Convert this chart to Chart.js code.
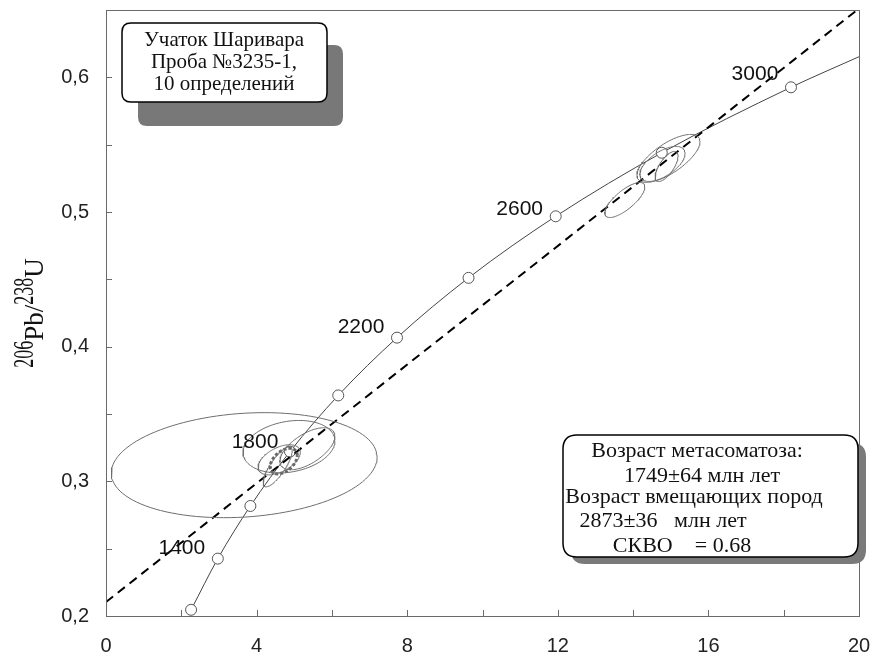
<!DOCTYPE html>
<html>
<head>
<meta charset="utf-8">
<script src="https://cdn.jsdelivr.net/npm/chart.js@4.4.1/dist/chart.umd.min.js"></script>
<style>
  html, body { margin: 0; padding: 0; background: #ffffff; }
  #wrap { width: 874px; height: 658px; }
</style>
</head>
<body>
<div id="wrap"><canvas id="c" width="874" height="658"></canvas></div>
<script>
// Concordia age markers (Ma) and their 207Pb/235U, 206Pb/238U coordinates
const markerAges = [1200, 1400, 1600, 1800, 2000, 2200, 2400, 2600, 2800, 3000];
const markerX = [2.260, 2.970, 3.835, 4.887, 6.169, 7.729, 9.629, 11.944, 14.762, 18.193];
const markerY = [0.2046, 0.2426, 0.2817, 0.3221, 0.3638, 0.4067, 0.4511, 0.4968, 0.5440, 0.5926];
// Concordia continues past the last marker to the right edge of the plot
const curveEndX = 20;
const curveEndY = 0.6153;

// Ages written next to their markers
const labeledAges = [1400, 1800, 2200, 2600, 3000];

// Discordia through the lower (1749 Ma) and upper (2873 Ma) intercepts
const discordiaX = [0, 20];
const discordiaY = [0.2104, 0.6511];

// Analytical error ellipses: centre, half-extent in x and y, error correlation
const ellCx  = [3.67, 4.86, 5.35, 4.56, 4.60, 14.94, 14.78, 14.89, 13.78];
const ellCy  = [0.3120, 0.3257, 0.3242, 0.3108, 0.3160, 0.5398, 0.5357, 0.5338, 0.5089];
const ellSx  = [3.53, 1.22, 0.73, 0.385, 0.56, 0.837, 0.60, 0.305, 0.531];
const ellSy  = [0.0390, 0.0195, 0.0156, 0.0149, 0.0112, 0.0178, 0.0130, 0.0112, 0.0130];
const ellRho = [0.15, 0.22, 0.60, 0.80, 0.50, 0.70, 0.60, 0.70, 0.75];

// Intercept error region near the lower intercept
const icptCx = [4.72];
const icptCy = [0.3150];
const icptSx = [0.36];
const icptSy = [0.0095];
const icptRho = [0.45];

// Axis tick labels
const xTickLabels = [0, 4, 8, 12, 16, 20];
const yTickLabels = [0.2, 0.3, 0.4, 0.5, 0.6];

const infoTopLines = ['Учаток Шаривара', 'Проба №3235-1,', '10 определений'];
const infoBottomLines = ['Возраст метасоматоза:', '1749±64 млн лет', 'Возраст вмещающих пород', '2873±36   млн лет', 'СКВО    = 0.68'];

function ellipsePoints(cx, cy, sx, sy, rho) {
  const pts = [];
  const k = Math.sqrt(1 - rho * rho);
  for (let i = 0; i <= 120; i++) {
    const t = (i / 120) * 2 * Math.PI;
    pts.push({ x: cx + sx * Math.cos(t), y: cy + sy * (rho * Math.cos(t) + k * Math.sin(t)) });
  }
  return pts;
}

const datasets = [];

ellCx.forEach((cx, i) => {
  datasets.push({
    data: ellipsePoints(cx, ellCy[i], ellSx[i], ellSy[i], ellRho[i]),
    showLine: true, borderColor: '#6e6e6e', borderWidth: 1,
    pointRadius: 0, tension: 0, fill: false
  });
});

icptCx.forEach((cx, i) => {
  datasets.push({
    data: ellipsePoints(cx, icptCy[i], icptSx[i], icptSy[i], icptRho[i]),
    showLine: true, borderColor: '#666666', borderWidth: 3, borderDash: [3, 2],
    pointRadius: 0, tension: 0, fill: false
  });
});

// Discordia
datasets.push({
  data: discordiaX.map((x, i) => ({ x, y: discordiaY[i] })),
  showLine: true, borderColor: '#000000', borderWidth: 2, borderDash: [9, 6],
  pointRadius: 0, fill: false
});

// Concordia curve
const curvePts = markerX.map((x, i) => ({ x, y: markerY[i] }));
curvePts.push({ x: curveEndX, y: curveEndY });
datasets.push({
  data: curvePts,
  showLine: true, borderColor: '#444444', borderWidth: 1,
  cubicInterpolationMode: 'monotone',
  pointRadius: curvePts.map((p, i) => i < markerX.length ? 5.5 : 0),
  pointBackgroundColor: '#ffffff', pointBorderColor: '#555555', pointBorderWidth: 1,
  fill: false
});

function roundRect(ctx, x, y, w, h, r) {
  ctx.beginPath();
  ctx.moveTo(x + r, y);
  ctx.lineTo(x + w - r, y);
  ctx.quadraticCurveTo(x + w, y, x + w, y + r);
  ctx.lineTo(x + w, y + h - r);
  ctx.quadraticCurveTo(x + w, y + h, x + w - r, y + h);
  ctx.lineTo(x + r, y + h);
  ctx.quadraticCurveTo(x, y + h, x, y + h - r);
  ctx.lineTo(x, y + r);
  ctx.quadraticCurveTo(x, y, x + r, y);
  ctx.closePath();
}

// Label placement relative to each labelled marker (pixels)
const labelDx = [-36, -35, -36, -36, -36];
const labelDy = [-10, -9, -10, -7, -13];

const decorations = {
  id: 'decorations',
  beforeDatasetsDraw(chart) {
    const { ctx, chartArea: a, scales } = chart;
    ctx.save();
    ctx.strokeStyle = '#6a6a6a';
    ctx.lineWidth = 1;
    // Inward tick marks
    scales.x.ticks.forEach(t => {
      const px = Math.round(scales.x.getPixelForValue(t.value)) + 0.5;
      ctx.beginPath(); ctx.moveTo(px, a.bottom); ctx.lineTo(px, a.bottom - 6); ctx.stroke();
    });
    scales.y.ticks.forEach(t => {
      const py = Math.round(scales.y.getPixelForValue(t.value)) + 0.5;
      ctx.beginPath(); ctx.moveTo(a.left, py); ctx.lineTo(a.left + 6, py); ctx.stroke();
    });
    ctx.restore();
  },
  afterDraw(chart) {
    const { ctx, chartArea: a, scales } = chart;
    ctx.save();
    // Plot frame
    ctx.strokeStyle = '#6a6a6a';
    ctx.lineWidth = 1;
    ctx.strokeRect(Math.round(a.left) + 0.5, Math.round(a.top) + 0.5,
                   Math.round(a.right - a.left), Math.round(a.bottom - a.top));

    // Age labels beside concordia markers
    ctx.fillStyle = '#111111';
    ctx.font = '21px "Liberation Sans", Arial, sans-serif';
    ctx.textAlign = 'center';
    ctx.textBaseline = 'middle';
    labeledAges.forEach((age, k) => {
      const i = markerAges.indexOf(age);
      const px = scales.x.getPixelForValue(markerX[i]);
      const py = scales.y.getPixelForValue(markerY[i]);
      ctx.fillText(String(age), px + labelDx[k], py + labelDy[k]);
    });

    // Sample box, top left
    ctx.fillStyle = '#787878';
    roundRect(ctx, 138, 45, 205, 81, 9); ctx.fill();
    ctx.fillStyle = '#ffffff';
    ctx.strokeStyle = '#000000';
    ctx.lineWidth = 1.5;
    roundRect(ctx, 122, 23, 205, 79, 9); ctx.fill(); ctx.stroke();
    ctx.fillStyle = '#111111';
    ctx.font = '21px "Liberation Serif", "Times New Roman", serif';
    ctx.textAlign = 'center';
    ctx.textBaseline = 'alphabetic';
    infoTopLines.forEach((s, i) => ctx.fillText(s, 224, 46 + i * 22));

    // Result box, bottom right
    ctx.fillStyle = '#7a7a7a';
    roundRect(ctx, 571, 443, 295, 121, 14); ctx.fill();
    ctx.fillStyle = '#ffffff';
    ctx.strokeStyle = '#000000';
    ctx.lineWidth = 1.5;
    roundRect(ctx, 563, 435, 295, 122, 14); ctx.fill(); ctx.stroke();
    ctx.fillStyle = '#111111';
    ctx.font = '22px "Liberation Serif", "Times New Roman", serif';
    const bx = [697, 702, 694, 663, 682];
    const by = [457, 482, 503, 527, 552];
    infoBottomLines.forEach((s, i) => ctx.fillText(s, bx[i], by[i]));

    // Rotated y-axis title 206Pb/238U
    ctx.translate(43, 313);
    ctx.rotate(-Math.PI / 2);
    const parts = [
      { t: '206', sup: true }, { t: 'Pb/', sup: false },
      { t: '238', sup: true }, { t: 'U', sup: false }
    ];
    const supFont = '30px "Liberation Serif", "Times New Roman", serif';
    const mainFont = '27px "Liberation Serif", "Times New Roman", serif';
    const supScale = 0.6;
    let total = 0;
    parts.forEach(p => {
      ctx.font = p.sup ? supFont : mainFont;
      p.w = ctx.measureText(p.t).width * (p.sup ? supScale : 1);
      total += p.w;
    });
    let cur = -total / 2;
    ctx.textAlign = 'left';
    parts.forEach(p => {
      ctx.font = p.sup ? supFont : mainFont;
      if (p.sup) {
        ctx.save();
        ctx.translate(cur, -10);
        ctx.scale(supScale, 1);
        ctx.fillText(p.t, 0, 0);
        ctx.restore();
      } else {
        ctx.fillText(p.t, cur, 0);
      }
      cur += p.w;
    });
    ctx.restore();
  }
};

// Keep the plot area fixed: no extra room reserved for half-labels at the axis ends
function fixPadding(s) {
  s.paddingLeft = 0; s.paddingRight = 0; s.paddingTop = 0; s.paddingBottom = 0;
}

new Chart(document.getElementById('c'), {
  type: 'scatter',
  data: { datasets },
  options: {
    responsive: false,
    animation: false,
    events: [],
    layout: { padding: { top: 10, right: 15, left: 0, bottom: 0 } },
    plugins: { legend: { display: false }, tooltip: { enabled: false } },
    scales: {
      x: {
        type: 'linear', min: 0, max: 20,
        border: { display: false },
        grid: { display: false, drawTicks: false },
        ticks: {
          stepSize: 2, padding: 18, color: '#222222', maxRotation: 0, autoSkip: false,
          font: { family: '"Liberation Sans", Arial, sans-serif', size: 20 },
          callback: v => xTickLabels.includes(Math.round(v)) && Math.abs(v - Math.round(v)) < 1e-6 ? String(Math.round(v)) : ''
        },
        afterFit: s => { s.height = 42; fixPadding(s); }
      },
      y: {
        type: 'linear', min: 0.2, max: 0.65,
        border: { display: false },
        grid: { display: false, drawTicks: false },
        ticks: {
          stepSize: 0.05, padding: 17, color: '#222222', autoSkip: false,
          font: { family: '"Liberation Sans", Arial, sans-serif', size: 20 },
          callback: v => {
            const m = yTickLabels.find(t => Math.abs(t - v) < 1e-6);
            return m !== undefined ? m.toFixed(1).replace('.', ',') : '';
          }
        },
        afterFit: s => { s.width = 106; fixPadding(s); }
      }
    }
  },
  plugins: [decorations]
});
</script>
</body>
</html>
